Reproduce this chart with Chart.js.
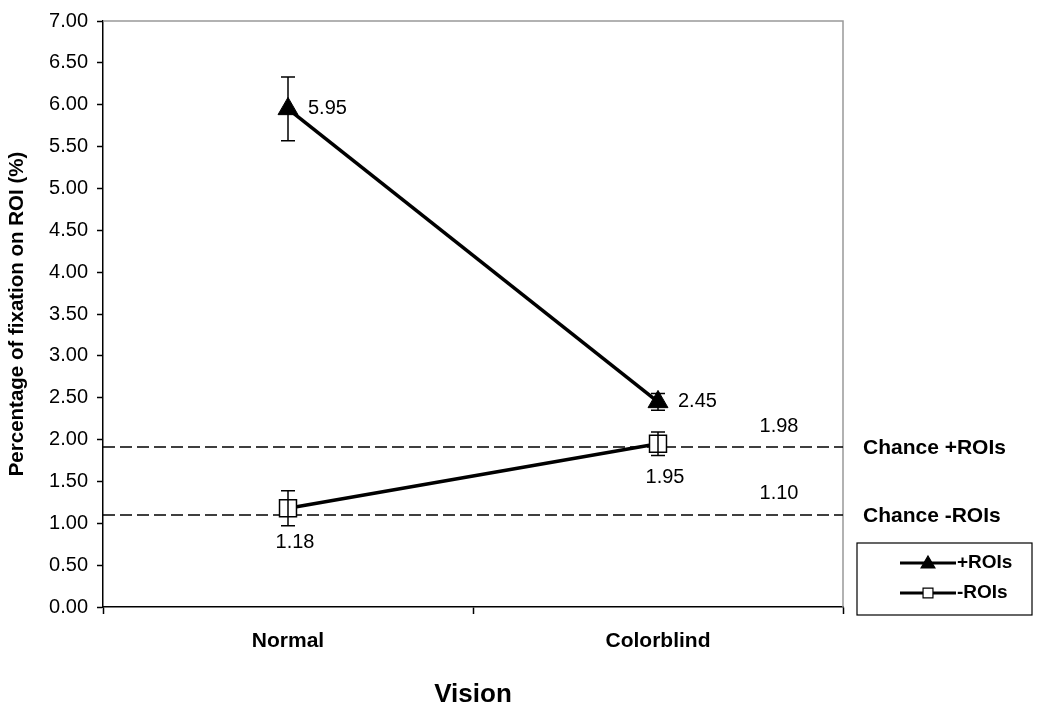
<!DOCTYPE html>
<html>
<head>
<meta charset="utf-8">
<script src="https://cdn.jsdelivr.net/npm/chart.js@4.4.0/dist/chart.umd.min.js"></script>
<style>
  html, body { margin: 0; padding: 0; background: #fff; }
  #wrap { width: 1053px; height: 708px; position: relative; }
</style>
</head>
<body>
<div id="wrap"><canvas id="chart"></canvas></div>
<script>
const categories = ["Normal", "Colorblind"]
const plusRois = [5.95, 2.45]
const plusErr = [0.38, 0.10]
const minusRois = [1.18, 1.95]
const minusErr = [0.21, 0.14]
const chanceValues = [1.91, 1.10]
const chanceLabels = ["1.98", "1.10"]
const chanceNames = ["Chance +ROIs", "Chance -ROIs"]
const legendNames = ["+ROIs", "-ROIs"]

const FONT = "Arial, 'Liberation Sans', sans-serif"
const errors = [plusErr, minusErr]

const overlay = {
  id: "overlay",
  beforeDatasetsDraw(chart) {
    const { ctx, chartArea: a, scales: { y } } = chart
    ctx.save()
    // grey frame on top and right
    ctx.strokeStyle = "#999"
    ctx.lineWidth = 1.5
    ctx.beginPath()
    ctx.moveTo(a.left, a.top)
    ctx.lineTo(a.right, a.top)
    ctx.lineTo(a.right, a.bottom)
    ctx.stroke()

    // chance lines
    ctx.strokeStyle = "#000"
    ctx.lineWidth = 1.5
    ctx.setLineDash([12, 5])
    chanceValues.forEach(v => {
      const py = y.getPixelForValue(v)
      ctx.beginPath()
      ctx.moveTo(a.left, py)
      ctx.lineTo(a.right, py)
      ctx.stroke()
    })
    ctx.setLineDash([])

    ctx.fillStyle = "#000"
    ctx.textBaseline = "middle"
    chanceValues.forEach((v, i) => {
      const py = y.getPixelForValue(v)
      ctx.font = "20px " + FONT
      ctx.textAlign = "center"
      ctx.fillText(chanceLabels[i], a.right - 64, py - 21)
      ctx.font = "bold 21px " + FONT
      ctx.textAlign = "left"
      ctx.fillText(chanceNames[i], a.right + 20, py + 1)
    })
    ctx.restore()
  },
  afterDatasetsDraw(chart) {
    const { ctx, chartArea: a, scales: { x, y } } = chart
    ctx.save()
    // error bars
    ctx.strokeStyle = "#000"
    ctx.lineWidth = 1.5
    chart.data.datasets.forEach((ds, di) => {
      ds.data.forEach((v, i) => {
        const px = x.getPixelForValue(i)
        const top = y.getPixelForValue(v + errors[di][i])
        const bot = y.getPixelForValue(v - errors[di][i])
        ctx.beginPath()
        ctx.moveTo(px, top); ctx.lineTo(px, bot)
        ctx.moveTo(px - 7, top); ctx.lineTo(px + 7, top)
        ctx.moveTo(px - 7, bot); ctx.lineTo(px + 7, bot)
        ctx.stroke()
      })
    })

    // data labels
    ctx.fillStyle = "#000"
    ctx.font = "20px " + FONT
    ctx.textBaseline = "middle"
    plusRois.forEach((v, i) => {
      ctx.textAlign = "left"
      ctx.fillText(v.toFixed(2), x.getPixelForValue(i) + 20, y.getPixelForValue(v))
    })
    minusRois.forEach((v, i) => {
      ctx.textAlign = "center"
      ctx.fillText(v.toFixed(2), x.getPixelForValue(i) + 7, y.getPixelForValue(v) + 34)
    })

    // legend
    const lx = a.right + 14, ly = 543, lw = 175, lh = 72
    ctx.strokeStyle = "#000"
    ctx.lineWidth = 1.2
    ctx.strokeRect(lx, ly, lw, lh)
    chart.data.datasets.forEach((ds, di) => {
      const cy = ly + 20 + di * 30
      ctx.strokeStyle = "#000"
      ctx.lineWidth = 3
      ctx.beginPath()
      ctx.moveTo(lx + 43, cy); ctx.lineTo(lx + 99, cy)
      ctx.stroke()
      ctx.fillStyle = ds.pointBackgroundColor
      ctx.strokeStyle = "#000"
      ctx.lineWidth = 1.2
      Chart.helpers.drawPoint(ctx, { pointStyle: ds.pointStyle, radius: ds.pointStyle === "triangle" ? 8 : 7, rotation: 0, borderWidth: 1.2 }, lx + 71, cy + (ds.pointStyle === "triangle" ? 1 : 0))
      ctx.fillStyle = "#000"
      ctx.font = "bold 19px " + FONT
      ctx.textAlign = "left"
      ctx.fillText(legendNames[di], lx + 100, cy)
    })
    ctx.restore()
  }
}

new Chart(document.getElementById("chart"), {
  type: "line",
  data: {
    labels: categories,
    datasets: [
      {
        label: legendNames[0],
        data: plusRois,
        borderColor: "#000",
        borderWidth: 3.5,
        pointStyle: "triangle",
        pointRadius: 11.5,
        pointBackgroundColor: "#000",
        pointBorderColor: "#000",
        pointBorderWidth: 1,
        tension: 0,
      },
      {
        label: legendNames[1],
        data: minusRois,
        borderColor: "#000",
        borderWidth: 3.5,
        pointStyle: "rect",
        pointRadius: 12,
        pointBackgroundColor: "#fff",
        pointBorderColor: "#000",
        pointBorderWidth: 1.5,
        tension: 0,
      },
    ],
  },
  options: {
    responsive: true,
    maintainAspectRatio: false,
    animation: false,
    layout: { padding: { top: 19, right: 210, left: 0, bottom: 0 } },
    plugins: { legend: { display: false }, tooltip: { enabled: false } },
    scales: {
      x: {
        offset: true,
        grid: { offset: true, drawOnChartArea: false, tickLength: 7, tickColor: "#000", tickWidth: 1.5 },
        border: { color: "#000", width: 1.5 },
        ticks: { color: "#000", padding: 15, font: { family: FONT, size: 21, weight: "bold" } },
        title: { display: true, text: "Vision", color: "#000", padding: 0, font: { family: FONT, size: 26, weight: "bold", lineHeight: 1 } },
        afterFit: (s) => { s.height = 101 },
      },
      y: {
        min: 0,
        max: 7,
        ticks: { stepSize: 0.5, color: "#000", padding: 9, callback: v => v.toFixed(2), font: { family: FONT, size: 20 } },
        grid: { drawOnChartArea: false, tickLength: 6, tickColor: "#000", tickWidth: 1.5 },
        border: { color: "#000", width: 1.5 },
        title: { display: true, text: "Percentage of fixation on ROI (%)", color: "#000", padding: 7, font: { family: FONT, size: 20.5, weight: "bold", lineHeight: 1 } },
        afterFit: (s) => { s.width = 103 },
      },
    },
  },
  plugins: [overlay],
})
</script>
</body>
</html>
